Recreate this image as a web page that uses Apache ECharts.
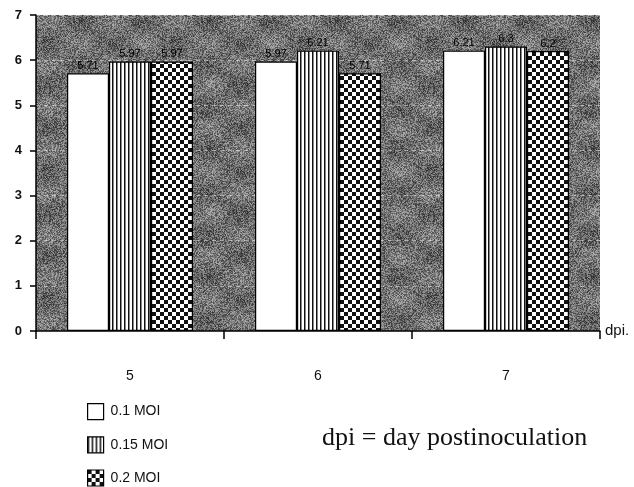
<!DOCTYPE html>
<html><head><meta charset="utf-8">
<script src="https://cdn.jsdelivr.net/npm/echarts@6/dist/echarts.min.js"></script>
<style>html,body{margin:0;padding:0;background:#fff}#c{width:634px;height:487px}</style>
</head><body><div id="c"></div>
<script>
var categories = ['5', '6', '7'];
var moi01 = [5.71, 5.97, 6.21];
var moi015 = [5.97, 6.21, 6.3];
var moi02 = [5.97, 5.71, 6.2];
var seriesNames = ['0.1 MOI', '0.15 MOI', '0.2 MOI'];
var yTicks = [0, 1, 2, 3, 4, 5, 6, 7];

function stripeCanvas() {
  var c = document.createElement('canvas'); c.width = 4; c.height = 4;
  var g = c.getContext('2d');
  g.fillStyle = '#fff'; g.fillRect(0, 0, 4, 4);
  g.fillStyle = '#111'; g.fillRect(0, 0, 1.5, 4);
  return c;
}
function checkerCanvas() {
  var c = document.createElement('canvas'); c.width = 8; c.height = 8;
  var g = c.getContext('2d');
  g.fillStyle = '#fff'; g.fillRect(0, 0, 8, 8);
  g.fillStyle = '#111'; g.fillRect(0, 0, 4, 4); g.fillRect(4, 4, 4, 4);
  return c;
}
function grainCanvas() {
  var s = 128;
  var c = document.createElement('canvas'); c.width = s; c.height = s;
  var g = c.getContext('2d');
  var img = g.createImageData(s, s);
  for (var y = 0; y < s; y++) for (var x = 0; x < s; x++) {
    var h = Math.sin(x * 12.9898 + y * 78.233) * 43758.5453;
    h = h - Math.floor(h);
    var slow = Math.sin(x * 0.098) * Math.cos(y * 0.147) * 18;
    var v = Math.round(58 + h * 105 + slow);
    v = Math.max(0, Math.min(255, v));
    var i = (y * s + x) * 4;
    img.data[i] = v; img.data[i + 1] = v; img.data[i + 2] = v; img.data[i + 3] = 255;
  }
  g.putImageData(img, 0, 0);
  return c;
}

var chart = echarts.init(document.getElementById('c'), null, {renderer: 'canvas'});
var lbl = {show: true, position: 'top', distance: 2, color: '#000', fontSize: 11, fontFamily: 'Arial'};
var fills = [
  '#ffffff',
  {image: stripeCanvas(), repeat: 'repeat'},
  {image: checkerCanvas(), repeat: 'repeat'}
];
var datas = [moi01, moi015, moi02];
var series = datas.map(function (d, i) {
  return {
    name: seriesNames[i], type: 'bar', data: d,
    barGap: '0%', barCategoryGap: '33%',
    itemStyle: {color: fills[i], borderColor: '#000', borderWidth: 1.2},
    label: lbl
  };
});

chart.setOption({
  animation: false,
  backgroundColor: '#fff',
  grid: {left: 36, right: 34, top: 15, bottom: 156, show: true,
    backgroundColor: {image: grainCanvas(), repeat: 'repeat'}, borderWidth: 0},
  legend: {
    orient: 'vertical', left: 87, top: 403, height: 120, padding: 0,
    itemWidth: 16, itemHeight: 16, itemGap: 16,
    icon: 'rect', data: seriesNames,
    itemStyle: {borderColor: '#000', borderWidth: 1.2},
    textStyle: {fontFamily: 'Arial', fontSize: 14, color: '#111', padding: [0, 0, 0, 2]}
  },
  xAxis: {
    type: 'category', data: categories,
    name: 'dpi.', nameLocation: 'end', nameGap: 5,
    nameTextStyle: {fontFamily: 'Arial', fontSize: 15, color: '#111', verticalAlign: 'middle'},
    axisLine: {lineStyle: {color: '#000', width: 1.5}},
    axisTick: {show: true, length: 8, lineStyle: {color: '#000', width: 1.5}},
    axisLabel: {margin: 38, fontFamily: 'Arial', fontSize: 14, color: '#111'}
  },
  yAxis: {
    type: 'value', min: yTicks[0], max: yTicks[yTicks.length - 1], interval: 1,
    axisLine: {show: true, lineStyle: {color: '#000', width: 1.5}},
    axisTick: {show: true, length: 6, lineStyle: {color: '#000', width: 1.5}},
    axisLabel: {margin: 14, fontFamily: 'Arial', fontSize: 13, fontWeight: 'bold', color: '#111'},
    splitLine: {show: true, lineStyle: {color: 'rgba(255,255,255,0.45)', type: [4, 4], width: 1}}
  },
  graphic: [{
    type: 'text', left: 322, top: 425,
    style: {text: 'dpi = day postinoculation', fontFamily: '"Liberation Serif", "Times New Roman", serif', fontSize: 26, fill: '#111'}
  }],
  series: series
});
</script></body></html>
